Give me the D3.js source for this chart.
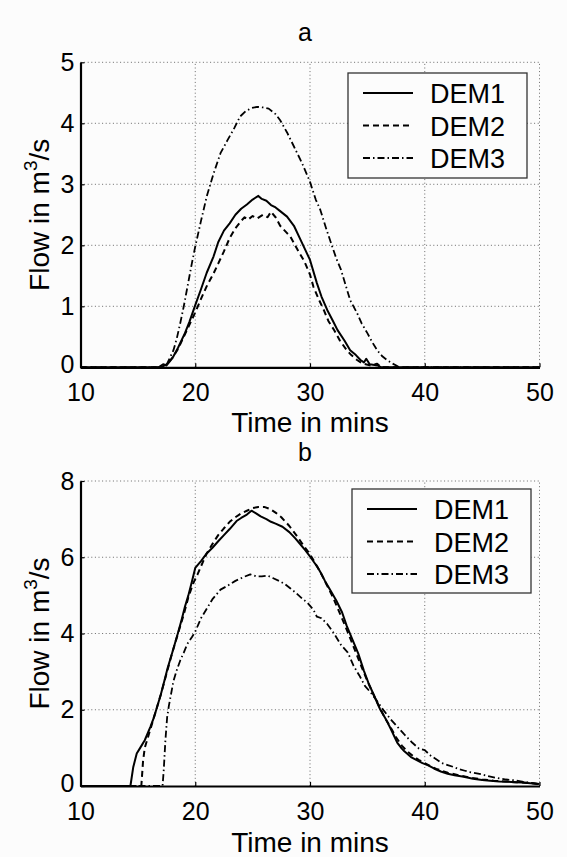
<!DOCTYPE html>
<html><head><meta charset="utf-8">
<script src="https://cdn.jsdelivr.net/npm/d3@7"></script>
<style>
html,body{margin:0;padding:0;background:#fcfcfc;}
svg{display:block;}
text{font-family:"Liberation Sans",Arial,Helvetica,sans-serif;fill:#000;}
</style></head>
<body>
<div id="chart"></div>
<script>
// ---------- data ----------
const xTicks = [10, 20, 30, 40, 50];
const yTicksA = [0, 1, 2, 3, 4, 5];
const yTicksB = [0, 2, 4, 6, 8];
const seriesNames = ["DEM1", "DEM2", "DEM3"];
const panelTitles = ["a", "b"];

// Panel a: [time (min), flow (m3/s)]
const aDEM1 = [[10,0],[15,0],[16.8,0],[17.2,0.05],[17.5,0.03],[17.8,0.1],[18.1,0.18],[18.5,0.32],[19.1,0.56],[19.5,0.75],[20.0,1.02],[20.5,1.28],[21.0,1.55],[21.6,1.82],[22.0,2.05],[22.5,2.24],[23.0,2.36],[23.5,2.5],[24.0,2.6],[24.5,2.67],[25.0,2.75],[25.5,2.81],[25.8,2.76],[26.2,2.73],[26.6,2.66],[27.0,2.62],[27.4,2.56],[28.0,2.47],[28.6,2.32],[29.2,2.08],[29.6,1.92],[30.0,1.76],[30.6,1.38],[31.0,1.16],[31.5,0.94],[32.0,0.76],[32.4,0.61],[33.0,0.44],[33.5,0.28],[34.0,0.2],[34.4,0.12],[34.7,0.08],[34.9,0.14],[35.2,0.05],[35.9,0.03],[36.2,0],[50,0]];
const aDEM2 = [[10,0],[15,0],[17,0],[17.5,0.05],[18.0,0.15],[18.5,0.3],[19.0,0.5],[19.5,0.7],[20.0,0.9],[20.5,1.12],[21.0,1.33],[21.6,1.54],[22.0,1.7],[22.5,1.9],[23.0,2.12],[23.5,2.28],[24.0,2.4],[24.3,2.46],[24.6,2.42],[25.0,2.48],[25.4,2.44],[25.9,2.5],[26.3,2.46],[26.6,2.55],[27.0,2.46],[27.4,2.32],[28.0,2.2],[28.3,2.14],[29.0,1.9],[29.5,1.74],[30.0,1.52],[30.3,1.32],[30.8,1.1],[31.2,0.94],[31.6,0.76],[32.1,0.61],[32.6,0.44],[33.2,0.28],[33.6,0.2],[34.1,0.12],[34.6,0.06],[35.3,0.03],[35.85,0.06],[36.2,0],[50,0]];
const aDEM3 = [[10,0],[15,0],[17.3,0],[17.6,0.08],[18.1,0.28],[18.4,0.48],[18.7,0.73],[19.0,1.0],[19.4,1.4],[19.7,1.7],[20.0,1.98],[20.5,2.4],[21.0,2.8],[21.6,3.18],[22.2,3.51],[22.8,3.72],[23.4,3.92],[23.9,4.11],[24.4,4.2],[24.9,4.25],[25.4,4.27],[25.9,4.26],[26.4,4.24],[27.0,4.15],[27.4,4.05],[28.0,3.85],[28.6,3.62],[29.3,3.35],[30.0,3.04],[30.5,2.75],[30.9,2.58],[31.4,2.28],[31.9,2.0],[32.3,1.78],[32.7,1.6],[33.1,1.35],[33.5,1.1],[34.1,0.89],[34.5,0.72],[35.0,0.56],[35.4,0.42],[35.85,0.28],[36.3,0.18],[36.7,0.12],[37.2,0.06],[37.6,0.02],[37.8,0],[50,0]];

// Panel b
const bDEM1 = [[10,0],[14.35,0],[14.6,0.5],[14.9,0.85],[15.2,1.0],[15.6,1.2],[16.1,1.56],[16.4,1.8],[16.7,2.1],[17.0,2.4],[17.3,2.75],[17.6,3.1],[18.0,3.5],[18.48,4.0],[18.8,4.35],[19.1,4.7],[19.4,5.0],[19.7,5.35],[20.0,5.72],[20.5,5.9],[21.0,6.1],[21.5,6.25],[22.0,6.42],[22.5,6.58],[23.0,6.74],[23.6,6.95],[24.0,7.03],[24.5,7.12],[24.9,7.22],[25.3,7.15],[25.7,7.07],[26.2,7.0],[26.6,6.93],[27.0,6.88],[27.6,6.8],[28.2,6.66],[28.7,6.5],[29.1,6.36],[29.6,6.18],[30.0,6.02],[30.4,5.85],[30.7,5.72],[31.0,5.56],[31.3,5.38],[31.8,5.12],[32.3,4.86],[32.8,4.55],[33.2,4.2],[33.7,3.84],[34.2,3.48],[34.7,3.02],[35.1,2.7],[35.6,2.36],[36.1,2.02],[36.6,1.76],[37.0,1.52],[37.6,1.14],[38.0,0.98],[38.2,0.92],[38.8,0.76],[39.3,0.68],[39.8,0.6],[40.3,0.54],[40.8,0.46],[41.4,0.38],[42.0,0.32],[42.6,0.28],[43.4,0.24],[44.2,0.19],[45.0,0.16],[45.7,0.14],[46.5,0.12],[47.2,0.11],[47.8,0.1],[48.5,0.09],[49.2,0.07],[50,0.05]];
const bDEM2 = [[10,0],[15.3,0],[15.45,0.65],[15.6,1.0],[15.8,1.2],[16.1,1.5],[16.5,1.9],[17.0,2.4],[17.5,2.95],[18.0,3.5],[18.5,4.0],[19.0,4.5],[19.4,4.95],[19.8,5.3],[20.2,5.55],[20.7,5.9],[21.0,6.1],[21.5,6.35],[22.0,6.58],[22.5,6.76],[23.0,6.93],[23.5,7.05],[24.0,7.15],[24.5,7.22],[25.0,7.29],[25.5,7.32],[26.0,7.32],[26.5,7.27],[27.0,7.17],[27.5,7.05],[28.2,6.82],[28.8,6.58],[29.5,6.28],[30.0,6.08],[30.5,5.82],[31.0,5.55],[31.5,5.25],[32.0,4.95],[32.5,4.6],[33.0,4.25],[33.5,3.88],[34.0,3.5],[34.5,3.12],[35.0,2.75],[35.5,2.42],[36.0,2.1],[36.5,1.8],[37.0,1.55],[37.5,1.28],[38.0,1.06],[38.5,0.9],[39.0,0.78],[39.5,0.68],[40.0,0.6],[40.5,0.52],[41.0,0.45],[41.5,0.4],[42.0,0.35],[43.0,0.28],[44.0,0.22],[45.0,0.17],[46.0,0.14],[47.0,0.12],[48.0,0.1],[49.0,0.08],[50,0.05]];
const bDEM3 = [[10,0],[17.15,0],[17.25,0.4],[17.4,1.2],[17.55,1.8],[17.7,2.1],[18.1,2.75],[18.4,3.05],[18.7,3.3],[19.0,3.5],[19.3,3.72],[19.7,3.9],[20.0,4.05],[20.5,4.4],[21.0,4.65],[21.5,4.9],[22.2,5.15],[22.8,5.25],[23.5,5.38],[24.2,5.48],[24.8,5.55],[25.3,5.5],[25.8,5.5],[26.3,5.52],[26.8,5.45],[27.3,5.38],[27.8,5.3],[28.3,5.18],[28.8,5.06],[29.3,4.92],[29.8,4.8],[30.3,4.62],[30.6,4.44],[31.0,4.4],[31.5,4.25],[32.1,4.0],[32.7,3.7],[33.3,3.5],[33.8,3.15],[34.3,2.9],[34.8,2.62],[35.3,2.45],[35.8,2.25],[36.4,1.99],[37.0,1.76],[37.6,1.56],[38.2,1.36],[38.9,1.14],[39.5,0.98],[40.0,0.94],[40.5,0.8],[41.0,0.7],[41.5,0.6],[42.0,0.55],[42.5,0.5],[43.0,0.44],[43.5,0.4],[44.0,0.36],[44.9,0.31],[45.5,0.26],[46.3,0.21],[47.1,0.17],[47.8,0.15],[48.6,0.11],[49.3,0.08],[50,0.05]];

// ---------- drawing ----------
const W = 567, H = 857;
const svg = d3.select("#chart").append("svg").attr("width", W).attr("height", H);
svg.append("rect").attr("width", W).attr("height", H).attr("fill", "#fcfcfc");

const FS = 25;
const dashes = [null, "6,4", "7,3,1.5,3"];
const widths = [2, 2, 1.8];

const panels = [
  {title: panelTitles[0], yTicks: yTicksA, yMax: 5, top: 62.3, bottom: 367.3, series: [aDEM1, aDEM2, aDEM3],
   legend: {x: 348, y: 73, w: 179, h: 105}, titleY: 41, xlabY: 432},
  {title: panelTitles[1], yTicks: yTicksB, yMax: 8, top: 481, bottom: 786, series: [bDEM1, bDEM2, bDEM3],
   legend: {x: 352, y: 489, w: 179, h: 104}, titleY: 461, xlabY: 852}
];
const left = 80.5, right = 539.5;

panels.forEach(p => {
  const x = d3.scaleLinear().domain([10, 50]).range([left, right]);
  const y = d3.scaleLinear().domain([0, p.yMax]).range([p.bottom, p.top]);
  const g = svg.append("g");

  // grid
  const grid = g.append("g").attr("stroke", "#6a6a6a").attr("stroke-width", 1).attr("stroke-dasharray", "1,2.6");
  xTicks.filter(t => t !== 10).forEach(t => {
    grid.append("line").attr("x1", x(t)).attr("x2", x(t)).attr("y1", p.bottom).attr("y2", p.top);
  });
  p.yTicks.filter(t => t !== 0).forEach(t => {
    grid.append("line").attr("x1", left).attr("x2", right).attr("y1", y(t)).attr("y2", y(t));
  });

  // curves
  const line = d3.line().x(d => x(d[0])).y(d => y(d[1]));
  p.series.forEach((s, i) => {
    g.append("path").datum(s).attr("d", line).attr("fill", "none").attr("stroke", "#000")
      .attr("stroke-width", widths[i]).attr("stroke-linejoin", "round")
      .attr("stroke-dasharray", dashes[i]);
  });

  // axes
  const xAxis = d3.axisBottom(x).tickValues(xTicks).tickSizeInner(-4).tickSizeOuter(0).tickPadding(16).tickFormat(d3.format("d"));
  const yAxis = d3.axisLeft(y).tickValues(p.yTicks).tickSizeInner(-4).tickSizeOuter(0).tickPadding(6).tickFormat(d3.format("d"));
  const gx = g.append("g").attr("transform", `translate(0,${p.bottom})`).call(xAxis);
  const gy = g.append("g").attr("transform", `translate(${left},0)`).call(yAxis);
  [gx, gy].forEach(a => {
    a.select(".domain").attr("stroke", "#000").attr("stroke-width", 2.2);
    a.selectAll(".tick line").attr("stroke", "#000").attr("stroke-width", 1.2);
    a.selectAll(".tick text").attr("font-size", FS).attr("font-family", "Liberation Sans, Arial, sans-serif").attr("fill", "#000");
  });
  // nudge the zero label up slightly so it clears the first x tick label
  gy.selectAll(".tick text").filter(d => d === 0).attr("dy", "0.2em");

  // title
  g.append("text").attr("x", 305).attr("y", p.titleY).attr("text-anchor", "middle").attr("font-size", 25).text(p.title);
  // x label
  g.append("text").attr("x", (left + right) / 2).attr("y", p.xlabY).attr("text-anchor", "middle").attr("font-size", 28).text("Time in mins");
  // y label
  const yl = g.append("text").attr("transform", `translate(49,${(p.top + p.bottom) / 2}) rotate(-90)`)
    .attr("text-anchor", "middle").attr("font-size", 28);
  yl.append("tspan").text("Flow in m");
  yl.append("tspan").attr("font-size", 19).attr("dy", -12).text("3");
  yl.append("tspan").attr("dy", 12).text("/s");

  // legend
  const L = p.legend;
  const lg = g.append("g");
  lg.append("rect").attr("x", L.x).attr("y", L.y).attr("width", L.w).attr("height", L.h)
    .attr("fill", "#fcfcfc").attr("stroke", "#333").attr("stroke-width", 1.3);
  seriesNames.forEach((n, i) => {
    const cy = L.y + 20 + i * 32.5;
    lg.append("line").attr("x1", L.x + 15).attr("x2", L.x + 65).attr("y1", cy).attr("y2", cy)
      .attr("stroke", "#000").attr("stroke-width", widths[i]).attr("stroke-dasharray", dashes[i]);
    lg.append("text").attr("x", L.x + 82).attr("y", cy + 10).attr("font-size", 27).text(n);
  });
});
</script>
</body></html>
